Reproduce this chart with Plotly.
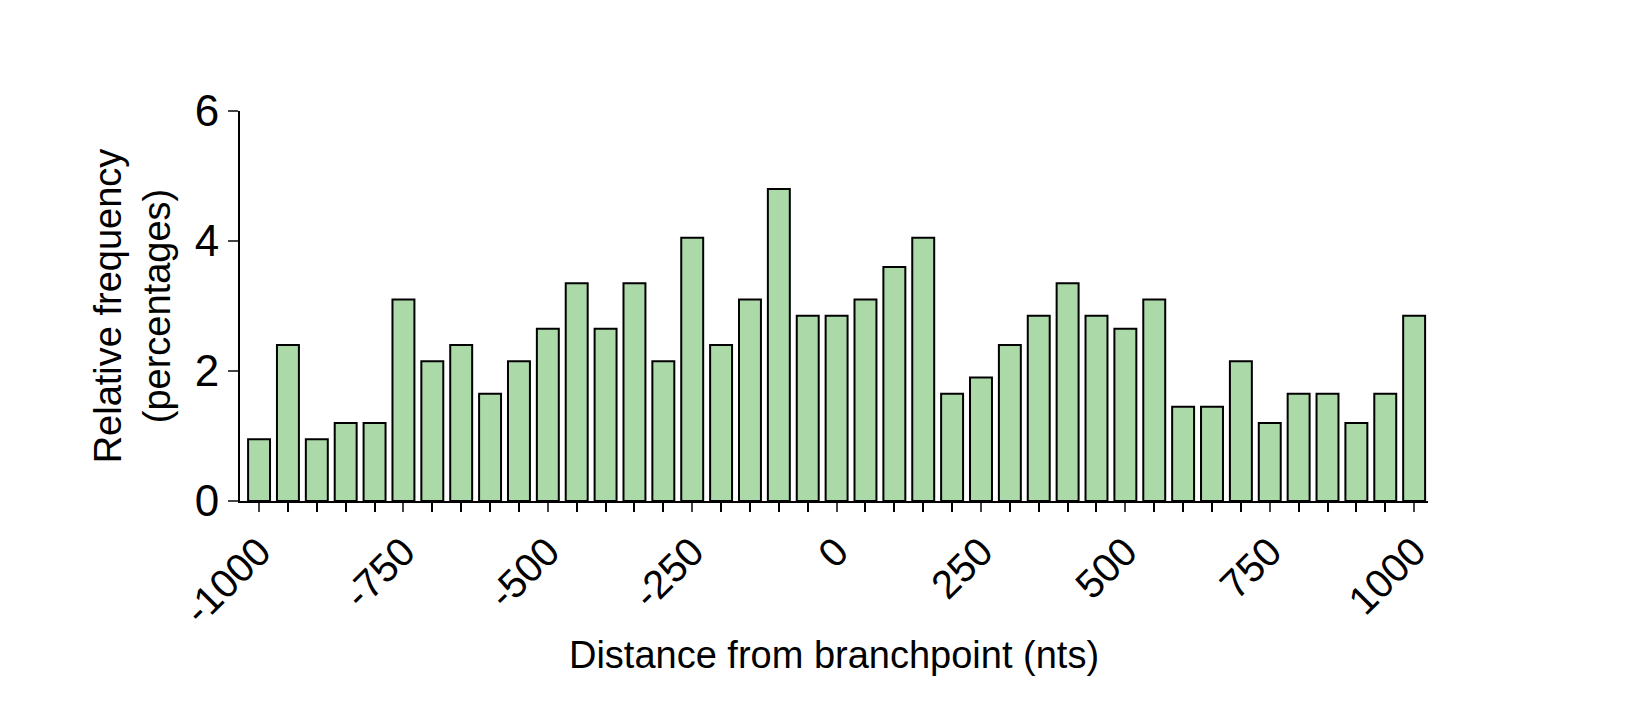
import plotly.graph_objects as go

distance = list(range(-1000, 1001, 50))
freq = [0.95, 2.4, 0.95, 1.2, 1.2, 3.1, 2.15, 2.4, 1.65, 2.15, 2.65, 3.35, 2.65, 3.35, 2.15,
        4.05, 2.4, 3.1, 4.8, 2.85, 2.85, 3.1, 3.6, 4.05, 1.65, 1.9, 2.4, 2.85, 3.35, 2.85,
        2.65, 3.1, 1.45, 1.45, 2.15, 1.2, 1.65, 1.65, 1.2, 1.65, 2.85]
xticks = list(range(-1000, 1001, 250))

fig = go.Figure(go.Bar(x=distance, y=freq, width=38,
                       marker=dict(color="#acd9a8", line=dict(color="black", width=2))))
fig.update_layout(
    width=1629, height=708, plot_bgcolor="white", paper_bgcolor="white",
    margin=dict(l=232, r=209, t=103, b=215),
    font=dict(family="Liberation Sans, Arial, sans-serif", color="black"),
    showlegend=False,
)
fig.update_xaxes(range=[-1033, 1024], tickvals=xticks, ticktext=[str(v) for v in xticks],
                 tickangle=-45, tickfont=dict(size=40), ticks="outside", ticklen=9, tickwidth=2,
                 minor=dict(dtick=50, tick0=0, ticks="outside", ticklen=9, tickwidth=2, tickcolor="black"),
                 showline=True, linecolor="black", linewidth=2, showgrid=False, zeroline=False,
                 title=dict(text="Distance from branchpoint (nts)", font=dict(size=38), standoff=10))
fig.update_yaxes(range=[0, 6], tickvals=[0, 2, 4, 6], tickfont=dict(size=44), ticks="outside",
                 ticklen=10, tickwidth=2, showline=True, linecolor="black", linewidth=2,
                 showgrid=False, zeroline=False,
                 title=dict(text="Relative frequency<br>(percentages)", font=dict(size=38), standoff=12))
fig.write_html("out.html")
